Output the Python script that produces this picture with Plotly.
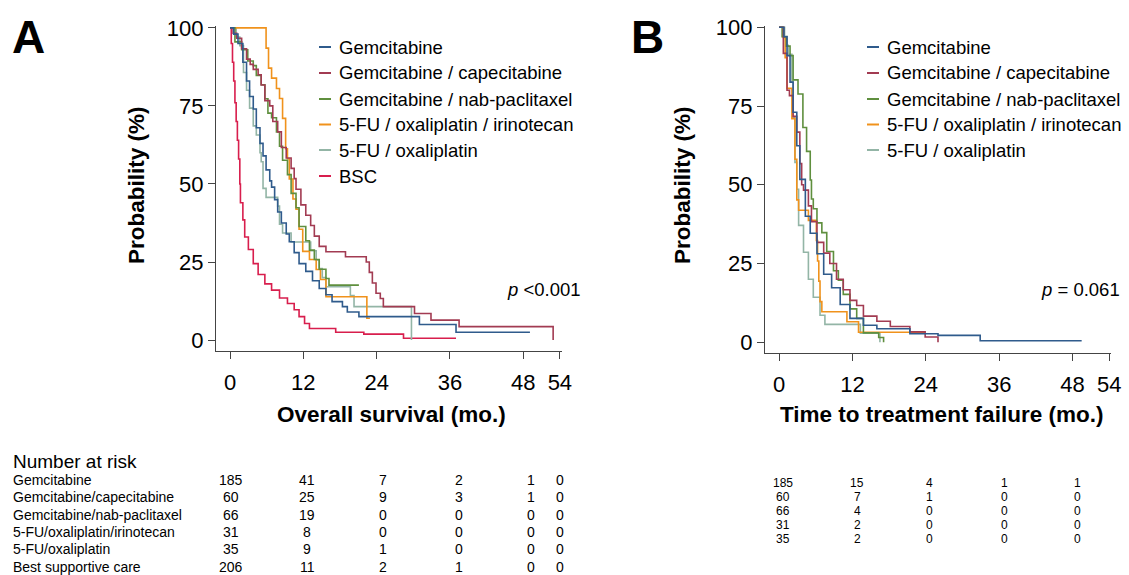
import plotly.graph_objects as go

W, H = 1129, 575

# ---------------- data ----------------
groups = ["Gemcitabine", "Gemcitabine / capecitabine", "Gemcitabine / nab-paclitaxel",
          "5-FU / oxaliplatin / irinotecan", "5-FU / oxaliplatin", "BSC"]
colors = ["#2f5b8c", "#a23b52", "#5f8f3e", "#f0921c", "#93b5a6", "#d81e4d"]

# Overall survival (months, %)
os_gem_t = [0, 0.6, 1.3, 2.1, 2.7, 3.2, 3.8, 4.3, 4.9, 5.4, 5.9, 6.5, 6.8, 7.3, 7.8, 8.4, 9.2, 9.7,
            10.5, 11.3, 12.4, 13.5, 14.6, 15.7, 16.7, 18.4, 19.2, 21.1, 31.0, 37.0, 49.1]
os_gem_s = [100, 98, 95, 89, 83, 78, 74, 68, 63, 59, 54.5, 51, 49, 45, 41, 37.5, 34, 31.5,
            28, 24.5, 22, 19, 16.5, 14.5, 12.3, 10.7, 9, 7.5, 5, 2.5, 2.5]

os_cap_t = [0, 0.5, 1.1, 1.9, 2.7, 3.3, 3.8, 4.6, 5.1, 5.7, 6.5, 7.0, 7.8, 8.4, 9.2, 10.0, 10.5,
            10.8, 11.6, 12.4, 13.2, 13.8, 14.6, 15.7, 18.9, 22.3, 22.8, 23.3, 23.9, 24.6, 25.1,
            30.2, 32.9, 37.5, 52.9]
os_cap_s = [100, 98.3, 96.7, 93.3, 90, 88.3, 86.7, 85, 81.7, 76.7, 75, 70, 66.7, 61.7, 58.3, 55,
            51.7, 48.3, 43.3, 40, 36.7, 33.3, 30, 28.3, 26.7, 25, 21.7, 18.3, 15, 13.3, 10.7,
            8.5, 6.4, 4.3, 0]

os_nab_t = [0, 0.8, 1.9, 2.9, 3.8, 4.3, 5.1, 5.7, 6.2, 6.8, 7.6, 8.1, 8.6, 9.4, 10.0, 10.8, 11.3,
            12.4, 13.0, 13.8, 14.6, 15.7, 16.2, 21.1]
os_nab_s = [100, 95.5, 93, 89.4, 87.9, 84.8, 81.8, 77.3, 72.7, 71.2, 66.7, 62.1, 57.6, 53, 47,
            42.4, 36.4, 31.8, 28.8, 25.8, 22.7, 19.7, 17.6, 17.6]

os_fox_iri_t = [0, 5.9, 6.3, 6.8, 7.6, 8.1, 8.6, 9.1, 9.4, 9.7, 10.3, 10.8, 11.3, 11.9, 13.0,
                14.1, 14.8, 15.7, 22.4, 22.9]
os_fox_iri_s = [100, 93.5, 87.1, 83.9, 80.6, 77.4, 71, 61.3, 58.1, 51.6, 45.2, 41.9, 35.5, 28.4,
                25.8, 22.6, 19.4, 13.9, 7, 7]

os_fox_t = [0, 1.0, 1.6, 2.2, 2.7, 3.2, 3.8, 4.3, 4.9, 5.1, 5.4, 5.9, 7.8, 8.1, 8.6, 10.0, 13.2,
            14.1, 14.6, 15.1, 15.7, 19.7, 20.3, 29.7]
os_fox_s = [100, 97.1, 94.3, 85.7, 80, 74.3, 68.6, 65.7, 60, 57.1, 48.6, 45.7, 42.9, 37.1, 34.3,
            31.4, 28.6, 25.7, 22.9, 20, 17.1, 14.3, 10.7, 0]

os_bsc_t = [0, 0.2, 0.4, 0.6, 0.8, 1.0, 1.2, 1.4, 1.6, 1.7, 2.1, 2.4, 3.0, 3.8, 4.6, 5.7, 6.8,
            8.1, 9.4, 10.5, 11.3, 12.2, 13.0, 17.3, 21.9, 28.4, 37.0]
os_bsc_s = [100, 95, 89, 83, 76, 70, 64, 58, 50, 44, 38.5, 33, 29, 24.5, 21, 18, 16, 13.5, 11.7,
            9.7, 7.5, 5.3, 3.7, 2.5, 1.9, 0.6, 0.6]

# Time to treatment failure (months, %)
ttf_gem_t = [0, 0.8, 1.3, 1.8, 2.3, 2.9, 3.4, 4.3, 5.1, 6.2, 7.3, 8.6, 10.0, 11.6, 13.8, 16.0,
             21.4, 26.0, 32.9, 49.5]
ttf_gem_s = [100, 97, 91, 82.6, 73, 62.4, 51.7, 40, 34.6, 28.1, 21.6, 17.3, 12, 7.6, 5.4, 4.3,
             2.7, 2.2, 0.5, 0.5]

ttf_cap_t = [0, 0.7, 1.3, 1.7, 2.3, 2.9, 3.4, 3.7, 4.0, 4.8, 5.3, 6.2, 7.3, 8.3, 9.4, 10.5, 11.6,
             12.7, 13.8, 16.0, 18.2, 21.4, 23.9, 26.0]
ttf_cap_s = [100, 91.7, 80, 78.3, 71.7, 66.7, 56.7, 50, 48.3, 43.3, 38.3, 31.7, 28.3, 25, 20,
             16.7, 13.3, 11.7, 8.3, 6.7, 5, 3.3, 1.7, 0]

ttf_nab_t = [0, 0.5, 1.2, 1.8, 2.3, 3.1, 3.9, 4.5, 5.1, 5.3, 5.6, 6.2, 7.0, 7.8, 8.9, 9.7, 10.5,
             11.6, 12.7, 13.8, 16.3, 17.1]
ttf_nab_s = [100, 97, 94, 91, 83.3, 78.8, 68.2, 60.6, 51.5, 45.5, 42.4, 37.9, 34.8, 28.8, 22.7,
             19.7, 15.2, 10.6, 7.6, 3, 1.5, 0]

ttf_fox_iri_t = [0, 0.7, 1.0, 1.3, 2.1, 2.6, 2.9, 3.2, 4.8, 6.1, 6.3, 6.5, 6.7, 7.0, 11.1, 13.0,
                 23.9]
ttf_fox_iri_s = [100, 96.8, 90.3, 80.6, 71, 58.1, 45.2, 41.9, 38.7, 32.3, 25.8, 19.4, 12.9, 9.7,
                 6.5, 3.2, 3.2]

ttf_fox_t = [0, 0.9, 1.3, 1.5, 2.1, 2.3, 2.6, 2.9, 3.2, 4.0, 4.8, 5.6, 6.7, 7.5, 13.3, 16.5]
ttf_fox_s = [100, 97.1, 94.3, 91.4, 82.9, 71.4, 57.1, 48.6, 37.1, 28.6, 20, 14.3, 8.6, 5.7, 2.9, 0]

# Number at risk
risk_times_a = [0, 12, 24, 36, 48, 54]
risk_labels_a = ["Gemcitabine", "Gemcitabine/capecitabine", "Gemcitabine/nab-paclitaxel",
                 "5-FU/oxaliplatin/irinotecan", "5-FU/oxaliplatin", "Best supportive care"]
risk_gem_a = [185, 41, 7, 2, 1, 0]
risk_cap_a = [60, 25, 9, 3, 1, 0]
risk_nab_a = [66, 19, 0, 0, 0, 0]
risk_fox_iri_a = [31, 8, 0, 0, 0, 0]
risk_fox_a = [35, 9, 1, 0, 0, 0]
risk_bsc_a = [206, 11, 2, 1, 0, 0]

risk_times_b = [0, 12, 24, 36, 48]
risk_gem_b = [185, 15, 4, 1, 1]
risk_cap_b = [60, 7, 1, 0, 0]
risk_nab_b = [66, 4, 0, 0, 0]
risk_fox_iri_b = [31, 2, 0, 0, 0]
risk_fox_b = [35, 2, 0, 0, 0]

x_ticks = [0, 12, 24, 36, 48, 54]
y_ticks = [0, 25, 50, 75, 100]

# ---------------- figure ----------------
FONT = "Arial, Liberation Sans, Helvetica, sans-serif"


def px(x):
    return x / W


def py(y):
    return 1 - y / H


fig = go.Figure()

os_curves = [(os_gem_t, os_gem_s), (os_cap_t, os_cap_s), (os_nab_t, os_nab_s),
             (os_fox_iri_t, os_fox_iri_s), (os_fox_t, os_fox_s), (os_bsc_t, os_bsc_s)]
ttf_curves = [(ttf_gem_t, ttf_gem_s), (ttf_cap_t, ttf_cap_s), (ttf_nab_t, ttf_nab_s),
              (ttf_fox_iri_t, ttf_fox_iri_s), (ttf_fox_t, ttf_fox_s)]

for i in reversed(range(len(os_curves))):
    t, s = os_curves[i]
    fig.add_trace(go.Scatter(x=t, y=s, mode="lines", name=groups[i], showlegend=False,
                             line=dict(color=colors[i], width=1.6, shape="hv"),
                             xaxis="x", yaxis="y"))
for i in reversed(range(len(ttf_curves))):
    t, s = ttf_curves[i]
    fig.add_trace(go.Scatter(x=t, y=s, mode="lines", name=groups[i], showlegend=False,
                             line=dict(color=colors[i], width=1.6, shape="hv"),
                             xaxis="x2", yaxis="y2"))

axis_common = dict(showgrid=False, zeroline=False, showline=True, linecolor="#444",
                   linewidth=1.3, ticks="outside", ticklen=7, tickcolor="#444", tickwidth=1.3,
                   automargin=False,
                   tickfont=dict(family=FONT, size=22, color="black"))

fig.update_layout(
    width=W, height=H, margin=dict(l=0, r=0, t=0, b=0, autoexpand=False),
    paper_bgcolor="white", plot_bgcolor="white", showlegend=False,
    xaxis=dict(domain=[px(216), px(562)], range=[-2.3, 54.35], tickvals=x_ticks,
               anchor="y", ticklabelstandoff=4, **axis_common),
    yaxis=dict(domain=[py(351), py(26)], range=[-3.5, 100.6], tickvals=y_ticks,
               anchor="x", **axis_common),
    xaxis2=dict(domain=[px(765), px(1111)], range=[-2.3, 54.3], tickvals=x_ticks,
                anchor="y2", ticklabelstandoff=4, **axis_common),
    yaxis2=dict(domain=[py(353), py(26)], range=[-3.4, 100.4], tickvals=y_ticks,
                anchor="x2", **axis_common),
)

ann = []
shapes = []


def text(x, y, s, size, bold=False, xanchor="left", angle=0, xref="paper", xshift=0):
    ann.append(dict(x=x, y=y, xref=xref, yref="paper", text=s, showarrow=False,
                    xanchor=xanchor, yanchor="middle", textangle=angle, xshift=xshift,
                    font=dict(family=FONT, size=size, color="black",
                              weight="bold" if bold else "normal")))


# panel letters
text(px(10), py(37), "A", 46, bold=True)
text(px(629), py(37), "B", 46, bold=True)

# axis titles
text(px(137), py(185), "Probability (%)", 22.5, bold=True, xanchor="center", angle=-90)
text(px(683), py(185), "Probability (%)", 22.5, bold=True, xanchor="center", angle=-90)
text(px(391), py(414), "Overall survival (mo.)", 22.5, bold=True, xanchor="center")
text(px(941), py(414), "Time to treatment failure (mo.)", 22.5, bold=True, xanchor="center")

# p values
text(px(583), py(289), "<i>p</i> <0.001", 18.5, xanchor="right")
text(px(1122), py(289), "<i>p</i> = 0.061", 18.5, xanchor="right")

# legends
leg_y = [47, 73, 99, 124.5, 150, 176]
for i, g in enumerate(groups):
    shapes.append(dict(type="line", xref="paper", yref="paper", x0=px(319), x1=px(331),
                       y0=py(leg_y[i]), y1=py(leg_y[i]), line=dict(color=colors[i], width=2)))
    text(px(337), py(leg_y[i]), g, 18.5)
for i, g in enumerate(groups[:5]):
    shapes.append(dict(type="line", xref="paper", yref="paper", x0=px(867), x1=px(879),
                       y0=py(leg_y[i]), y1=py(leg_y[i]), line=dict(color=colors[i], width=2)))
    text(px(885), py(leg_y[i]), g, 18.5)

# risk table A
text(px(11), py(461), "Number at risk", 19)
rows_a = [risk_gem_a, risk_cap_a, risk_nab_a, risk_fox_iri_a, risk_fox_a, risk_bsc_a]
row_y_a = [480, 497.3, 514.6, 531.9, 549.2, 566.5]
shift_a = [1, 4, 6, 9, 8, 0]
for r, (lab, vals) in enumerate(zip(risk_labels_a, rows_a)):
    text(px(11), py(row_y_a[r]), lab, 14)
    for c, v in enumerate(vals):
        text(risk_times_a[c], py(row_y_a[r]), str(v), 14, xanchor="center", xref="x",
             xshift=shift_a[c])

# risk table B
rows_b = [risk_gem_b, risk_cap_b, risk_nab_b, risk_fox_iri_b, risk_fox_b]
row_y_b = [483, 497, 511, 525, 538.5]
shift_b = [4, 5, 4, 5, 5]
for r, vals in enumerate(rows_b):
    for c, v in enumerate(vals):
        text(risk_times_b[c], py(row_y_b[r]), str(v), 12, xanchor="center", xref="x2",
             xshift=shift_b[c])

fig.update_layout(annotations=ann, shapes=shapes)
fig.write_html("out.html")
